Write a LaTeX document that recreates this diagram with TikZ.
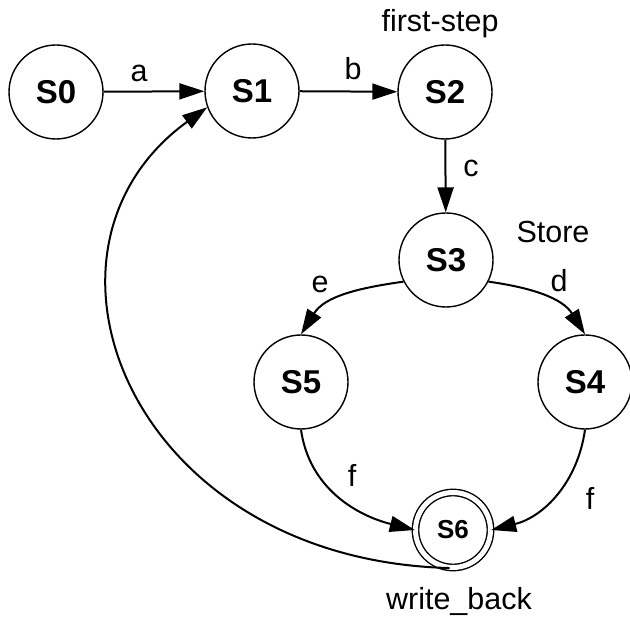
\documentclass[tikz,border=0pt]{standalone}
\usepackage{fontspec}
\setmainfont{Liberation Sans}
\usetikzlibrary{arrows.meta}
\begin{document}
\begin{tikzpicture}[x=1pt,y=1pt,
  state/.style={circle,draw,line width=1.4pt,minimum size=94pt,inner sep=0pt,
    font=\fontsize{33}{33}\selectfont\bfseries},
  final/.style={circle,draw,line width=1.4pt,double,double distance=5pt,
    minimum size=75pt,inner sep=0pt,font=\fontsize{26}{26}\selectfont\bfseries},
  edge/.style={line width=2pt,-{Triangle[length=25pt,width=16pt]}},
  lbl/.style={font=\fontsize{30.5}{30.5}\selectfont,anchor=base}]
\useasboundingbox (0,0) rectangle (630,623);

% states
\node[state] (S0) at (56,531) {S0};
\node[state] (S1) at (252,532) {S1};
\node[state] (S2) at (445,531) {S2};
\node[state] (S3) at (446,363) {S3};
\node[state] (S5) at (301,241) {S5};
\node[state] (S4) at (585,241) {S4};
\node[final] (S6) at (453,93) {S6};

% state names
\node[lbl] (n2) at (440,591) {first-step};
\node[lbl] (n3) at (553,380) {Store};
\node[lbl] (n6) at (459,13) {write\_back};

% transitions
\draw[edge] (S0) -- (S1);
\draw[edge] (S1) -- (S2);
\draw[edge] (S2) -- (S3);
\draw[edge] (S3.207) to[out=188,in=58] (S5.north);
\draw[edge] (S3.333) to[out=-8,in=122] (S4.north);
\draw[edge] (S5.south) to[out=-82,in=166] (S6.west);
\draw[edge] (S4.south) to[out=-98,in=14] (S6.east);
\draw[edge] (S6.265) .. controls (130,63) and (10,373) .. (S1.200);

% transition labels
\node[lbl] (la) at (139,541) {a};
\node[lbl] (lb) at (353,543) {b};
\node[lbl] (lc) at (471,446) {c};
\node[lbl] (le) at (320,330) {e};
\node[lbl] (ld) at (559,331) {d};
\node[lbl] (lf1) at (352,136) {f};
\node[lbl] (lf2) at (590,113) {f};
\end{tikzpicture}
\end{document}
